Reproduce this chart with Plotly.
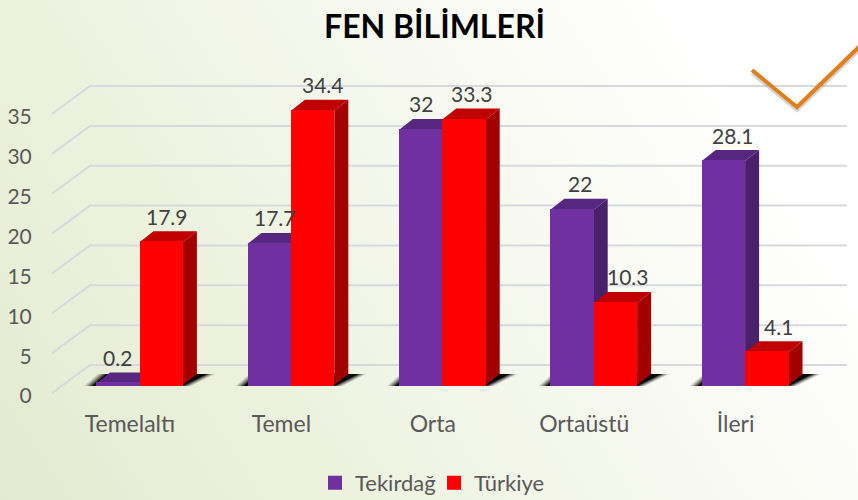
import urllib.parse
import plotly.graph_objects as go

categories = ["Temelaltı", "Temel", "Orta", "Ortaüstü", "İleri"]
tekirdag = [0.2, 17.7, 32, 22, 28.1]
turkiye = [17.9, 34.4, 33.3, 10.3, 4.1]
y_ticks = [0, 5, 10, 15, 20, 25, 30, 35]

# Label nudges (pixels) for the data labels, from the reference
nudge_tekirdag = [0, 6, 0, 8, 10]
nudge_turkiye = [6, 10, 8, 13, 12]

W, H = 858, 500
ML, MR, MT, MB = 40, 0, 40, 104
CAT_PX, UNIT_PX = 151.4, 7.97
X0_PX, Y0_PX = 130.0, 393.0   # pixel of category 0 and of value 0 on the front plane
FONT = "Lato"

x_range = [(ML - X0_PX) / CAT_PX, (W - MR - X0_PX) / CAT_PX]
y_range = [(Y0_PX - (H - MB)) / UNIT_PX, (Y0_PX - MT) / UNIT_PX]


def dx(px):
    return px / CAT_PX


def dy(px):
    return px / UNIT_PX


BAR_W = dx(43.4)
SHIFT = dx(9.5)       # bars stand inside the floor
BASE = dy(8.0)
DEPTH_X, DEPTH_Y = dx(14), dy(11)
WALL_X, WALL_Y = dx(38), dy(28)
FLOOR_R = dx(757)


def poly(points, fill, opacity=1.0):
    path = "M" + " L".join(f"{a:.5f},{b:.5f}" for a, b in points) + " Z"
    return dict(type="path", path=path, xref="x", yref="y", layer="below",
                fillcolor=fill, opacity=opacity, line=dict(width=0))


shapes = []
# Perspective grid
for v in y_ticks:
    x_l = dx(52 - X0_PX)
    pts = [(x_l, v), (x_l + WALL_X, v + WALL_Y), (x_l + WALL_X + FLOOR_R, v + WALL_Y)]
    path = "M" + " L".join(f"{a:.5f},{b:.5f}" for a, b in pts)
    shapes.append(dict(type="path", path=path, xref="x", yref="y", layer="below",
                       line=dict(color="#D8D9DF", width=2)))

# Blurred floor shadow behind each pair
for i in range(len(categories)):
    left = i + SHIFT - BAR_W
    right = i + SHIFT + BAR_W
    for grow, op in [(8, 0.14), (6, 0.2), (4, 0.3), (2, 0.45), (0, 0.9)]:
        g = dx(grow)
        shapes.append(poly([
            (left - g - dx(4), BASE - dy(1)),
            (right + g, BASE - dy(1)),
            (right + DEPTH_X + dx(10) + g, BASE + dy(11)),
            (left + DEPTH_X - dx(4) - g, BASE + dy(11)),
        ], "#000000", op))

# Side and top faces of the 3-D columns
for series, start, side, top in [(tekirdag, -1, "#49206A", "#572680"),
                                 (turkiye, 0, "#A30000", "#C00000")]:
    for i, v in enumerate(series):
        l = i + SHIFT + start * BAR_W
        r = l + BAR_W
        t = BASE + v
        shapes.append(poly([(r, BASE), (r + DEPTH_X, BASE + DEPTH_Y),
                            (r + DEPTH_X, t + DEPTH_Y), (r, t)], side))
        shapes.append(poly([(l, t), (r, t), (r + DEPTH_X, t + DEPTH_Y),
                            (l + DEPTH_X, t + DEPTH_Y)], top))


def pap(px, py):
    return (px - ML) / (W - ML - MR), (H - MB - py) / (H - MT - MB)


# Orange tick mark with its soft shadow
for off, col, wid, op in [(3, "#8A8A8A", 4, 0.35), (0, "#E07F1C", 4, 1)]:
    a, b, c = pap(752, 70 + off), pap(797, 107 + off), pap(862, 44 + off)
    shapes.append(dict(type="path", xref="paper", yref="paper", layer="above", opacity=op,
                       path=f"M{a[0]:.5f},{a[1]:.5f} L{b[0]:.5f},{b[1]:.5f} L{c[0]:.5f},{c[1]:.5f}",
                       line=dict(color=col, width=wid)))

fig = go.Figure()
for name, series, start, color in [("Tekirdağ", tekirdag, -1, "#7030A0"),
                                   ("Türkiye", turkiye, 0, "#FF0000")]:
    fig.add_trace(go.Bar(
        name=name,
        x=[i + SHIFT + start * BAR_W + BAR_W / 2 for i in range(len(series))],
        y=series, base=BASE, width=BAR_W - dx(2),
        marker=dict(color=color, line=dict(color=color, width=2)),
        hoverinfo="name+y",
    ))

annotations = []
for series, start, nudges in [(tekirdag, -1, nudge_tekirdag), (turkiye, 0, nudge_turkiye)]:
    for i, v in enumerate(series):
        annotations.append(dict(
            x=i + SHIFT + start * BAR_W + BAR_W / 2, y=BASE + v, xref="x", yref="y",
            text=str(v), showarrow=False, xanchor="center", yanchor="middle",
            xshift=nudges[i], yshift=26,
            font=dict(family=FONT, size=21, color="#404040"),
        ))

svg = (
    f"<svg xmlns='http://www.w3.org/2000/svg' width='{W}' height='{H}'>"
    "<defs><linearGradient id='g' gradientUnits='userSpaceOnUse' x1='0' y1='500' x2='700' y2='40'>"
    "<stop offset='0' stop-color='#E4EAD0'/><stop offset='0.35' stop-color='#EDF2DF'/>"
    "<stop offset='0.7' stop-color='#F7F9F0'/><stop offset='1' stop-color='#FFFFFF'/>"
    "</linearGradient></defs>"
    f"<rect width='{W}' height='{H}' fill='url(#g)'/></svg>"
)
tl = pap(0, 0)
fig.update_layout(
    width=W, height=H, autosize=False,
    margin=dict(l=ML, r=MR, t=MT, b=MB, pad=0, autoexpand=False),
    barmode="overlay", bargap=0,
    paper_bgcolor="#F3F6E8", plot_bgcolor="rgba(0,0,0,0)",
    title=dict(text="<b>FEN BİLİMLERİ</b>", x=434.5 / W, xanchor="center", y=1 - 27 / H,
               yanchor="middle", font=dict(family=FONT, size=32, color="#000000")),
    xaxis=dict(range=x_range, tickmode="array", tickvals=list(range(len(categories))),
               ticktext=categories, showgrid=False, zeroline=False, showline=False,
               ticks="outside", ticklen=7, tickcolor="rgba(0,0,0,0)",
               tickfont=dict(family=FONT, size=23, color="#595959"), fixedrange=True),
    yaxis=dict(range=y_range, tickmode="array", tickvals=y_ticks, showgrid=False,
               zeroline=False, showline=False, ticks="outside", ticklen=3,
               tickcolor="rgba(0,0,0,0)", ticklabelshift=3,
               tickfont=dict(family=FONT, size=21, color="#595959"), fixedrange=True),
    legend=dict(orientation="h", x=(329 - 14 - ML) / (W - ML), xanchor="left",
                y=pap(0, 483)[1], yanchor="middle", entrywidth=74, entrywidthmode="pixels",
                bgcolor="rgba(0,0,0,0)",
                font=dict(family=FONT, size=22, color="#595959")),
    shapes=shapes, annotations=annotations,
    images=[dict(source="data:image/svg+xml," + urllib.parse.quote(svg), xref="paper", yref="paper",
                 x=tl[0], y=tl[1], sizex=W / (W - ML - MR), sizey=H / (H - MT - MB),
                 xanchor="left", yanchor="top", sizing="stretch", layer="below")],
    showlegend=True,
)
fig.write_html("out.html", config={"displayModeBar": False},
               post_script="document.documentElement.style.margin='0';document.body.style.margin='0';")
